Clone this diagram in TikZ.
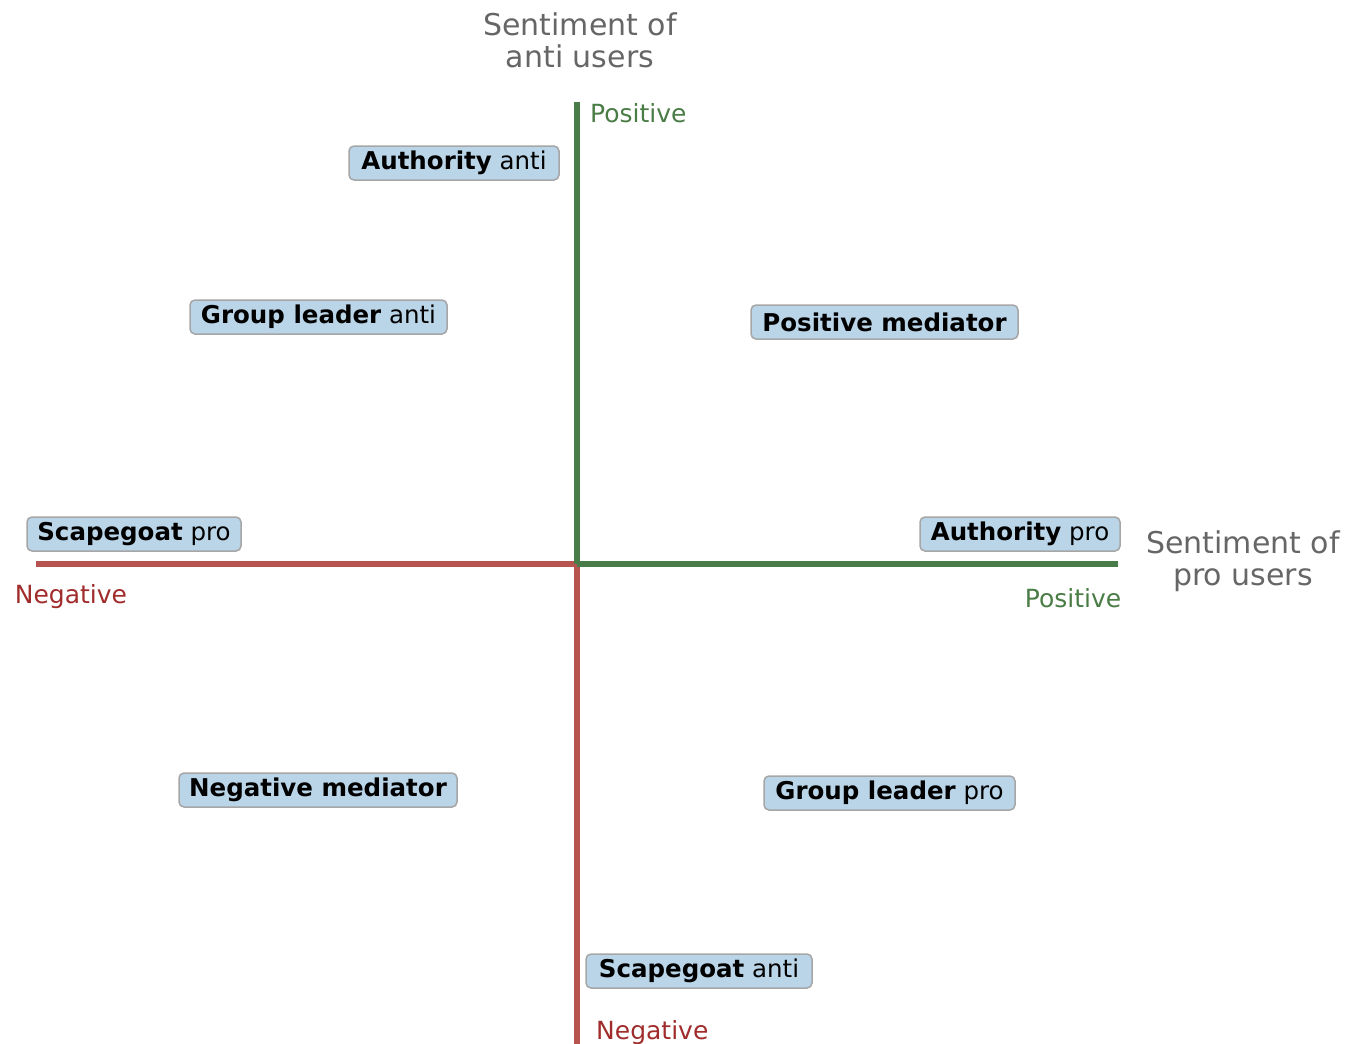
\documentclass[tikz,border=0pt]{standalone}
\usepackage{fontspec}
\setmainfont{DejaVu Sans}
\definecolor{axgreen}{HTML}{4A7C4A}
\definecolor{axred}{HTML}{B85450}
\definecolor{txtred}{HTML}{A02C2C}
\definecolor{txtgreen}{HTML}{4A7C45}
\definecolor{txtgray}{HTML}{666666}
\definecolor{boxfill}{HTML}{BAD5E8}
\definecolor{boxdraw}{HTML}{A6A6A6}
\begin{document}
\begin{tikzpicture}[x=1pt,y=-1pt,
  role/.style={draw=boxdraw, fill=boxfill, line width=1.5pt, rounded corners=5pt,
     minimum height=34pt, inner sep=0pt, font=\fontsize{24.5}{28}\selectfont, text=black},
  axlabel/.style={font=\fontsize{25}{30}\selectfont, inner sep=0pt},
  title/.style={font=\fontsize{30}{32}\selectfont, text=txtgray, align=center, inner sep=0pt},
  axline/.style={line width=6.5pt}]
\useasboundingbox (0,0) rectangle (1360,1044);
\coordinate (O) at (577,564);
\coordinate (top) at (577,102);
\coordinate (bottom) at (577,1044);
\coordinate (left) at (36,564);
\coordinate (right) at (1118,564);
\draw[axline, axred] (left) -- (O);
\draw[axline, axred] (O) -- (bottom);
\draw[axline, axgreen] (top) -- (O);
\draw[axline, axgreen] (O) -- (right);

\node[axlabel, text=txtgreen, anchor=west] (ptop) at (590,113) {Positive};
\node[axlabel, text=txtgreen] (pright) at (1073,598) {Positive};
\node[axlabel, text=txtred] (nleft) at (71,597) {Negative};
\node[axlabel, text=txtred, anchor=west] (nbottom) at (596,1033) {Negative};

\node[title] (tanti) at (580,40) {Sentiment of\\anti users};
\node[title] (tpro) at (1243,561) {Sentiment of\\pro users};

\node[role, minimum width=210pt] (aa) at (454,163) {\textbf{Authority} anti};
\node[role, minimum width=257pt] (gla) at (318.5,317) {\textbf{Group leader} anti};
\node[role, minimum width=267pt] (pm) at (884.5,322) {\textbf{Positive mediator}};
\node[role, minimum width=214pt] (sp) at (134,534) {\textbf{Scapegoat} pro};
\node[role, minimum width=200pt] (ap) at (1020,534) {\textbf{Authority} pro};
\node[role, minimum width=278pt] (nm) at (318,790) {\textbf{Negative mediator}};
\node[role, minimum width=251pt] (glp) at (889.5,793) {\textbf{Group leader} pro};
\node[role, minimum width=226pt] (sa) at (699,971) {\textbf{Scapegoat} anti};
\end{tikzpicture}
\end{document}
